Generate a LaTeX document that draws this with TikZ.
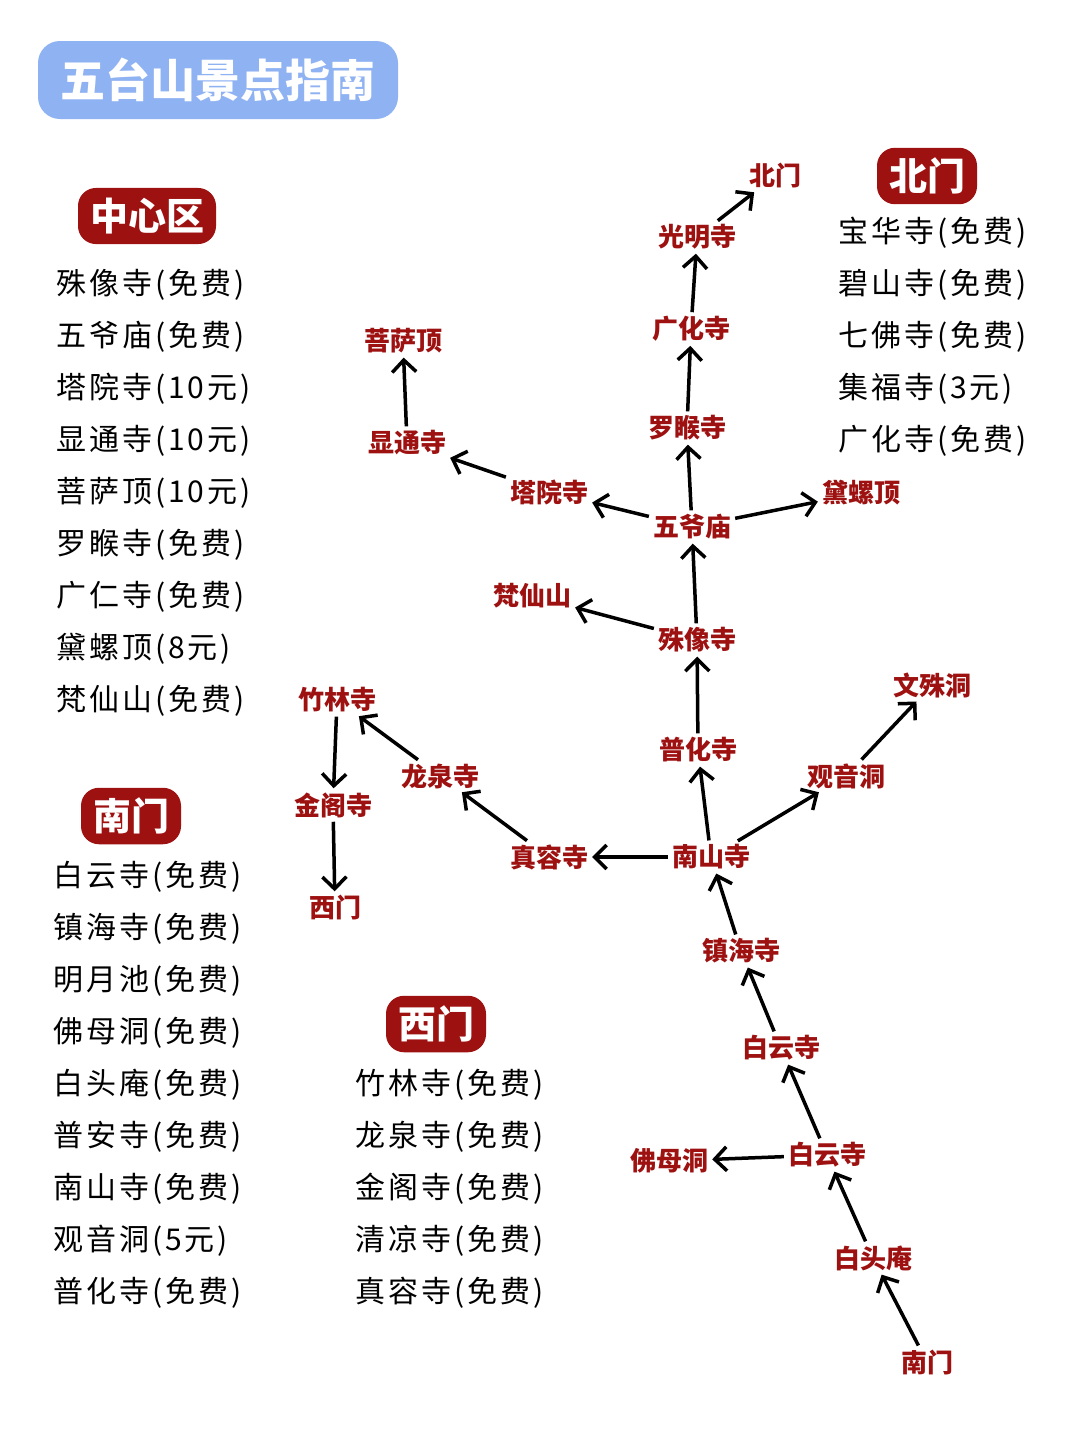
\documentclass[tikz,border=0pt]{standalone}
\usepackage{fontspec}
\setmainfont{Noto Sans CJK SC}
\newfontfamily\lstfont[LetterSpace=10]{Noto Sans CJK SC}
\usetikzlibrary{arrows.meta}
\definecolor{dred}{HTML}{9E1111}
\definecolor{tblue}{HTML}{8FB2F2}
\begin{document}
\begin{tikzpicture}[x=1pt,y=-1pt,
 lbl/.style={text=dred,font=\fontsize{26}{26}\selectfont\bfseries,inner sep=3pt},
 tag/.style={fill=dred,text=white,rounded corners=18pt,font=\fontsize{38}{38}\selectfont\bfseries,inner xsep=12pt,inner ysep=10pt},
 lst/.style={anchor=west,font=\fontsize{30}{30}\lstfont,inner sep=0pt},
 arr/.style={-{Straight Barb[length=12pt,width=24pt,line width=3.5pt]},line width=3.5pt,shorten <=1pt,shorten >=1pt}]
\useasboundingbox (0,0) rectangle (1080,1443);
\fill[white] (0,0) rectangle (1080,1443);
\node[fill=tblue,text=white,rounded corners=22pt,minimum width=360pt,minimum height=78pt,font=\fontsize{45}{45}\selectfont\bfseries] (title) at (218,80) {五台山景点指南};
% tags
\node[tag] (t1) at (147,216) {中心区};
\node[tag] (t2) at (927,176) {北门};
\node[tag] (t3) at (131,816) {南门};
\node[tag] (t4) at (436,1024) {西门};
% lists
\foreach \t [count=\i from 0] in {殊像寺(免费),五爷庙(免费),塔院寺(10元),显通寺(10元),菩萨顶(10元),罗睺寺(免费),广仁寺(免费),黛螺顶(8元),梵仙山(免费)}
 \node[lst] (a\i) at (56,285+52*\i) {\t};
\foreach \t [count=\i from 0] in {宝华寺(免费),碧山寺(免费),七佛寺(免费),集福寺(3元),广化寺(免费)}
 \node[lst] (b\i) at (838,233+52*\i) {\t};
\foreach \t [count=\i from 0] in {白云寺(免费),镇海寺(免费),明月池(免费),佛母洞(免费),白头庵(免费),普安寺(免费),南山寺(免费),观音洞(5元),普化寺(免费)}
 \node[lst] (c\i) at (53,877+52*\i) {\t};
\foreach \t [count=\i from 0] in {竹林寺(免费),龙泉寺(免费),金阁寺(免费),清凉寺(免费),真容寺(免费)}
 \node[lst] (d\i) at (355,1085+52*\i) {\t};
% map nodes
\node[lbl] (bm) at (775,176) {北门};
\node[lbl] (gm) at (697,237) {光明寺};
\node[lbl] (gh) at (691,329) {广化寺};
\node[lbl] (lh) at (687,428) {罗睺寺};
\node[lbl] (wy) at (692,527) {五爷庙};
\node[lbl] (dl) at (861,493) {黛螺顶};
\node[lbl] (ty) at (549,492) {塔院寺};
\node[lbl] (xt) at (407,443) {显通寺};
\node[lbl] (ps) at (403,341) {菩萨顶};
\node[lbl] (fx) at (532,596) {梵仙山};
\node[lbl] (sx) at (697,640) {殊像寺};
\node[lbl] (ph) at (698,750) {普化寺};
\node[lbl] (wsd) at (932,685) {文殊洞};
\node[lbl] (gy) at (846,776) {观音洞};
\node[lbl] (ns) at (711,857) {南山寺};
\node[lbl] (zr) at (549,857) {真容寺};
\node[lbl] (lq) at (440,776) {龙泉寺};
\node[lbl] (zl) at (337,700) {竹林寺};
\node[lbl] (jg) at (333,805) {金阁寺};
\node[lbl] (xm) at (335,908) {西门};
\node[lbl] (zh) at (741,951) {镇海寺};
\node[lbl] (by1) at (781,1048) {白云寺};
\node[lbl] (by2) at (827,1155) {白云寺};
\node[lbl] (fm) at (669,1161) {佛母洞};
\node[lbl] (bt) at (873,1258) {白头庵};
\node[lbl] (nm) at (927,1362) {南门};
% edges
\foreach \a/\b in {gm/bm,gh/gm,lh/gh,wy/lh,wy/dl,wy/ty,ty/xt,xt/ps,sx/wy,sx/fx,ph/sx,ns/ph,ns/gy,gy/wsd,ns/zr,zr/lq,lq/zl,zl/jg,jg/xm,zh/ns,by1/zh,by2/by1,by2/fm,bt/by2,nm/bt}
 \draw[arr] (\a) -- (\b);
\end{tikzpicture}
\end{document}
